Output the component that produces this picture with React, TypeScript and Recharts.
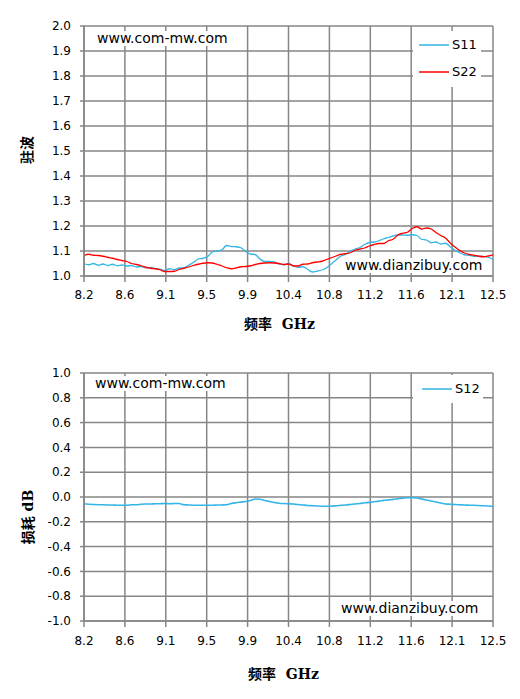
import React from 'react';
import { LineChart, Line, XAxis, YAxis, CartesianGrid, Legend } from 'recharts';

// frequency points, GHz (0.05 step)
const freqs = [
  8.2, 8.25, 8.3, 8.35, 8.4, 8.45, 8.5, 8.55, 8.6, 8.65, 8.7, 8.75, 8.8, 8.85, 8.9, 8.95,
  9.0, 9.05, 9.1, 9.15, 9.2, 9.25, 9.3, 9.35, 9.4, 9.45, 9.5, 9.55, 9.6, 9.65, 9.7, 9.75,
  9.8, 9.85, 9.9, 9.95, 10.0, 10.05, 10.1, 10.15, 10.2, 10.25, 10.3, 10.35, 10.4, 10.45,
  10.5, 10.55, 10.6, 10.65, 10.7, 10.75, 10.8, 10.85, 10.9, 10.95, 11.0, 11.05, 11.1, 11.15,
  11.2, 11.25, 11.3, 11.35, 11.4, 11.45, 11.5, 11.55, 11.6, 11.65, 11.7, 11.75, 11.8, 11.85,
  11.9, 11.95, 12.0, 12.05, 12.1, 12.15, 12.2, 12.25, 12.3, 12.35, 12.4, 12.45, 12.5,
];

const s11 = [
  1.049, 1.045, 1.05, 1.043, 1.048, 1.042, 1.047, 1.041, 1.044, 1.04, 1.042, 1.036, 1.038, 1.033, 1.034, 1.03,
  1.027, 1.022, 1.029, 1.025, 1.032, 1.032, 1.043, 1.054, 1.068, 1.071, 1.078, 1.096, 1.1, 1.105, 1.122, 1.118,
  1.117, 1.113, 1.098, 1.088, 1.086, 1.068, 1.058, 1.058, 1.056, 1.048, 1.045, 1.05, 1.04, 1.035,
  1.037, 1.027, 1.016, 1.019, 1.024, 1.033, 1.048, 1.064, 1.08, 1.087, 1.099, 1.108, 1.114, 1.126,
  1.134, 1.136, 1.141, 1.149, 1.154, 1.16, 1.164, 1.164, 1.163, 1.165, 1.162, 1.147, 1.144, 1.133,
  1.136, 1.128, 1.131, 1.117, 1.103, 1.093, 1.085, 1.083, 1.079, 1.079, 1.078, 1.075, 1.066,
];

const s22 = [
  1.082, 1.087, 1.083, 1.082, 1.079, 1.075, 1.071, 1.066, 1.062, 1.058, 1.05, 1.046, 1.041, 1.035, 1.031, 1.029,
  1.025, 1.018, 1.018, 1.019, 1.026, 1.031, 1.036, 1.042, 1.047, 1.051, 1.053, 1.052, 1.046, 1.04, 1.033, 1.029,
  1.032, 1.037, 1.038, 1.041, 1.046, 1.05, 1.052, 1.053, 1.052, 1.05, 1.046, 1.048, 1.041, 1.04,
  1.047, 1.048, 1.053, 1.056, 1.059, 1.066, 1.073, 1.08, 1.087, 1.089, 1.093, 1.103, 1.108, 1.112,
  1.12, 1.126, 1.13, 1.13, 1.141, 1.147, 1.164, 1.171, 1.175, 1.19, 1.197, 1.188, 1.192, 1.188,
  1.174, 1.162, 1.152, 1.132, 1.116, 1.102, 1.092, 1.086, 1.083, 1.079, 1.077, 1.08, 1.085,
];

const s12 = [
  -0.056, -0.058, -0.06, -0.062, -0.063, -0.064, -0.065, -0.066, -0.066, -0.066, -0.063, -0.062, -0.058, -0.056, -0.056, -0.055,
  -0.054, -0.053, -0.054, -0.053, -0.053, -0.062, -0.064, -0.066, -0.067, -0.067, -0.067, -0.066, -0.065, -0.064, -0.062, -0.052,
  -0.046, -0.041, -0.036, -0.028, -0.016, -0.018, -0.028, -0.036, -0.044, -0.05, -0.053, -0.055, -0.057, -0.061,
  -0.064, -0.068, -0.07, -0.072, -0.074, -0.075, -0.074, -0.07, -0.067, -0.064, -0.06, -0.056, -0.052, -0.047,
  -0.043, -0.038, -0.033, -0.027, -0.023, -0.019, -0.014, -0.009, -0.006, -0.005, -0.008, -0.016, -0.024, -0.032,
  -0.041, -0.049, -0.056, -0.058, -0.061, -0.063, -0.065, -0.066, -0.067, -0.069, -0.071, -0.073, -0.075,
];

// x axis ticks (evenly spaced, labels rounded like the original)
const xTicks = [8.2, 8.63, 9.06, 9.49, 9.92, 10.35, 10.78, 11.21, 11.64, 12.07, 12.5];
const xTickLabels = ['8.2', '8.6', '9.1', '9.5', '9.9', '10.4', '10.8', '11.2', '11.6', '12.1', '12.5'];
const vswrTicks = [1.0, 1.1, 1.2, 1.3, 1.4, 1.5, 1.6, 1.7, 1.8, 1.9, 2.0];
const lossTicks = [-1.0, -0.8, -0.6, -0.4, -0.2, 0.0, 0.2, 0.4, 0.6, 0.8, 1.0];

const vswrData = freqs.map((f, i) => ({ f, S11: s11[i], S22: s22[i] }));
const lossData = freqs.map((f, i) => ({ f, S12: s12[i] }));

const GRID = '#868686';
const BLUE = '#33b5e5';
const RED = '#ff0000';
const tickFont = { fill: '#000', fontSize: 12, fontFamily: 'DejaVu Sans' };
const fmtX = (v: number) => {
  const i = xTicks.indexOf(v);
  return i >= 0 ? xTickLabels[i] : String(v);
};

const renderLegend = (lineX: number, gap: number) => (props: any) => (
  <div>
    {(props.payload || []).map((p: any) => (
      <div key={p.value} style={{ display: 'flex', alignItems: 'center', height: 27 }}>
        <svg width={lineX + 30} height={4} style={{ display: 'block' }}>
          <line x1={lineX} y1={2} x2={lineX + 30} y2={2} stroke={p.color} strokeWidth={1.5} />
        </svg>
        <span style={{ marginLeft: gap, fontSize: 13, fontFamily: 'DejaVu Sans', color: '#000' }}>{p.value}</span>
      </div>
    ))}
  </div>
);

const watermark = (left: number, top: number, text: string) => (
  <div
    style={{
      position: 'absolute',
      left,
      top,
      background: '#fff',
      fontFamily: 'DejaVu Sans',
      fontSize: 14,
      lineHeight: '15px',
      padding: '0 2px',
      color: '#000',
    }}
  >
    {text}
  </div>
);

const axisTitle: React.CSSProperties = {
  position: 'absolute',
  fontFamily: '"DejaVu Serif", "Noto Sans CJK SC"',
  fontWeight: 'bold',
  fontSize: 14,
  color: '#000',
  whiteSpace: 'pre',
};

export default function App() {
  return (
    <div style={{ position: 'absolute', left: 0, top: 0, width: 520, height: 699, background: '#fff' }}>
      <div style={{ position: 'absolute', left: 0, top: 0 }}>
        <LineChart width={520} height={341} data={vswrData} margin={{ top: 26, right: 27, bottom: 35, left: 0 }}>
          <CartesianGrid stroke={GRID} strokeWidth={1.5} />
          <XAxis
            dataKey="f"
            type="number"
            domain={[8.2, 12.5]}
            ticks={xTicks}
            interval={0}
            tickFormatter={fmtX}
            stroke={GRID}
            strokeWidth={1.5}
            tickSize={6}
            tickMargin={8}
            height={30}
            tick={tickFont}
          />
          <YAxis
            type="number"
            domain={[1, 2]}
            ticks={vswrTicks}
            interval={0}
            tickFormatter={(v: number) => v.toFixed(1)}
            stroke={GRID}
            strokeWidth={1.5}
            tickSize={4}
            tickMargin={9}
            width={84}
            tick={tickFont}
          />
          <Legend
            layout="vertical"
            align="center"
            verticalAlign="middle"
            wrapperStyle={{ left: 413, top: 31, width: 68, height: 56, background: '#fff' }}
            content={renderLegend(6, 3)}
          />
          <Line type="monotone" dataKey="S11" stroke={BLUE} strokeWidth={1.3} dot={false} isAnimationActive={false} />
          <Line type="monotone" dataKey="S22" stroke={RED} strokeWidth={1.3} dot={false} isAnimationActive={false} />
        </LineChart>
      </div>
      {watermark(95, 31, 'www.com-mw.com')}
      {watermark(343, 258, 'www.dianzibuy.com')}
      <div style={{ ...axisTitle, left: 244, top: 313 }}>频率  GHz</div>
      <div style={{ ...axisTitle, left: 26, top: 150, transform: 'translate(-50%, -50%) rotate(-90deg)' }}>驻波</div>

      <div style={{ position: 'absolute', left: 0, top: 350 }}>
        <LineChart width={520} height={349} data={lossData} margin={{ top: 23, right: 27, bottom: 48, left: 0 }}>
          <CartesianGrid stroke={GRID} strokeWidth={1.5} />
          <XAxis
            dataKey="f"
            type="number"
            domain={[8.2, 12.5]}
            ticks={xTicks}
            interval={0}
            tickFormatter={fmtX}
            stroke={GRID}
            strokeWidth={1.5}
            tickSize={6}
            tickMargin={9}
            height={30}
            tick={tickFont}
          />
          <YAxis
            type="number"
            domain={[-1, 1]}
            ticks={lossTicks}
            interval={0}
            tickFormatter={(v: number) => v.toFixed(1)}
            stroke={GRID}
            strokeWidth={1.5}
            tickSize={4}
            tickMargin={9}
            width={84}
            tick={tickFont}
          />
          <Legend
            layout="vertical"
            align="center"
            verticalAlign="middle"
            wrapperStyle={{ left: 413, top: 25, width: 70, height: 28, background: '#fff' }}
            content={renderLegend(9, 3)}
          />
          <Line type="monotone" dataKey="S12" stroke={BLUE} strokeWidth={1.6} dot={false} isAnimationActive={false} />
        </LineChart>
      </div>
      {watermark(93, 376, 'www.com-mw.com')}
      {watermark(339, 601, 'www.dianzibuy.com')}
      <div style={{ ...axisTitle, left: 248, top: 663 }}>频率  GHz</div>
      <div style={{ ...axisTitle, left: 27, top: 517, transform: 'translate(-50%, -50%) rotate(-90deg)' }}>损耗 dB</div>
    </div>
  );
}
